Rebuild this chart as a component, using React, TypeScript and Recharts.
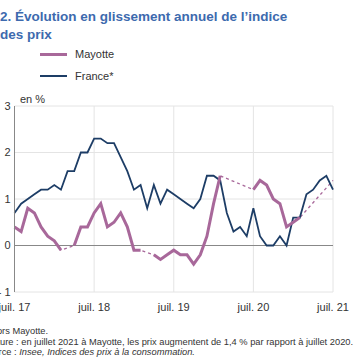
import { LineChart, Line, XAxis, YAxis, CartesianGrid, ReferenceLine } from 'recharts'

// monthly points, juil. 2017 -> juil. 2021
const FRANCE = [
  0.7, 0.9, 1.0, 1.1, 1.2, 1.2, 1.3, 1.2, 1.6, 1.6, 2.0, 2.0,
  2.3, 2.3, 2.2, 2.2, 1.9, 1.6, 1.2, 1.3, 0.8, 1.3, 0.9, 1.2,
  1.1, 1.0, 0.9, 0.8, 1.0, 1.5, 1.5, 1.4, 0.7, 0.3, 0.4, 0.2,
  0.8, 0.2, 0.0, 0.0, 0.2, 0.0, 0.6, 0.6, 1.1, 1.2, 1.4, 1.5,
  1.2,
]

const MAYOTTE: (number | null)[] = [
  0.4, 0.3, 0.8, 0.7, 0.4, 0.2, 0.1, -0.1, null, 0.0, 0.4, 0.4,
  0.7, 0.9, 0.4, 0.5, 0.7, 0.4, -0.1, -0.1, null, -0.2, -0.3, -0.2,
  -0.1, -0.2, -0.2, -0.4, -0.2, 0.2, 0.9, 1.5, null, null, null, null,
  1.2, 1.4, 1.3, 1.0, 0.9, 0.4, 0.5, 0.6, null, null, null, null,
  1.4,
]

const X_TICKS = [0, 12, 24, 36, 48]
const X_LABELS = ['juil. 17', 'juil. 18', 'juil. 19', 'juil. 20', 'juil. 21']
const Y_TICKS = [-1, 0, 1, 2, 3]

const PINK = '#a8689a'
const NAVY = '#1d3d66'

const data = FRANCE.map((v, i) => ({ m: i, france: v, mayotte: MAYOTTE[i] }))

export default function App() {
  return (
    <div
      style={{
        position: 'absolute',
        left: 0,
        top: 0,
        width: 356,
        height: 364,
        overflow: 'hidden',
        background: '#fff',
        fontFamily: '"Liberation Sans", Arial, sans-serif',
        color: '#333',
      }}
    >
      <div
        style={{
          position: 'absolute',
          left: 0,
          top: 8,
          fontSize: 13.5,
          fontWeight: 'bold',
          lineHeight: '18px',
          color: '#3d6aae',
          whiteSpace: 'nowrap',
        }}
      >
        2. Évolution en glissement annuel de l’indice
        <br />
        des prix
      </div>

      {/* legend */}
      <div style={{ position: 'absolute', left: 40, top: 53, width: 27, height: 2.5, background: PINK }} />
      <div style={{ position: 'absolute', left: 75, top: 48, fontSize: 11 }}>Mayotte</div>
      <div style={{ position: 'absolute', left: 40, top: 75, width: 27, height: 2, background: NAVY }} />
      <div style={{ position: 'absolute', left: 75, top: 70, fontSize: 11 }}>France*</div>

      <div style={{ position: 'absolute', left: 20, top: 93, fontSize: 11 }}>en %</div>

      <div style={{ position: 'absolute', left: 0, top: 0 }}>
        <LineChart width={356} height={364} data={data} margin={{ top: 106, right: 23, bottom: 52, left: 0 }}>
          <CartesianGrid stroke="#e4e4e4" strokeWidth={1} />
          <XAxis
            dataKey="m"
            type="number"
            domain={[0, 48]}
            ticks={X_TICKS}
            tickFormatter={(v) => X_LABELS[X_TICKS.indexOf(v)]}
            axisLine={false}
            tickLine={false}
            tickSize={0}
            tickMargin={11}
            height={20}
            tick={{ fontSize: 11, fill: '#333' }}
            interval={0}
          />
          <YAxis
            domain={[-1, 3]}
            ticks={Y_TICKS}
            width={14.5}
            tickFormatter={(v) => (v < 0 ? `-\u00a0${Math.abs(v)}` : `${v}`)}
            axisLine={{ stroke: '#888' }}
            tickLine={false}
            tickSize={0}
            tickMargin={4}
            tick={{ fontSize: 11, fill: '#333' }}
            interval={0}
          />
          <ReferenceLine y={0} stroke="#888" strokeWidth={1.2} />
          <Line
            dataKey="mayotte"
            stroke={PINK}
            strokeWidth={1.3}
            strokeDasharray="3 3"
            dot={false}
            connectNulls
            isAnimationActive={false}
          />
          <Line
            dataKey="france"
            stroke={NAVY}
            strokeWidth={1.8}
            dot={false}
            isAnimationActive={false}
          />
          <Line
            dataKey="mayotte"
            stroke={PINK}
            strokeWidth={3}
            dot={false}
            connectNulls={false}
            isAnimationActive={false}
          />
        </LineChart>
      </div>

      <div style={{ position: 'absolute', left: -16, top: 326, fontSize: 9.3, whiteSpace: 'nowrap' }}>
        * Hors Mayotte.
      </div>
      <div style={{ position: 'absolute', left: -17.5, top: 337, fontSize: 9.3, whiteSpace: 'nowrap' }}>
        Lecture : en juillet 2021 à Mayotte, les prix augmentent de 1,4 % par rapport à juillet 2020.
      </div>
      <div style={{ position: 'absolute', left: -18, top: 347, fontSize: 9.3, whiteSpace: 'nowrap' }}>
        Source : <i>Insee, Indices des prix à la consommation.</i>
      </div>
    </div>
  )
}
